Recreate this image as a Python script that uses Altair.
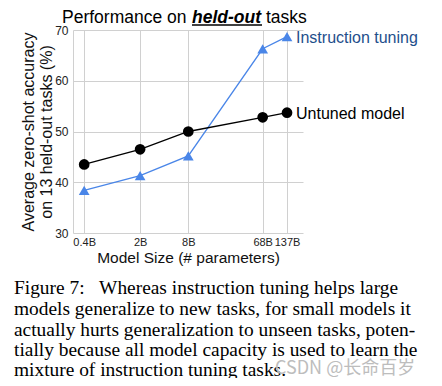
import altair as alt
import pandas as pd

sizes = [0.4, 2, 8, 68, 137]
size_labels = ["0.4B", "2B", "8B", "68B", "137B"]
untuned = [43.5, 46.5, 50.0, 52.8, 53.7]
instruction = [38.4, 41.3, 45.2, 66.3, 68.7]
series_names = ["Instruction tuning", "Untuned model"]
caption_lines = [
    "Figure 7:\u00a0\u00a0\u00a0Whereas instruction tuning helps large",
    "models generalize to new tasks, for small models it",
    "actually hurts generalization to unseen tasks, poten-",
    "tially because all model capacity is used to learn the",
    "mixture of instruction tuning tasks.",
]

BLUE = "#4a86e8"
W, H = 230, 203

xscale = alt.Scale(type="log", domain=[0.29, 217], nice=False)
yscale = alt.Scale(domain=[30, 70], nice=False)

df = pd.DataFrame({
    "size": sizes * 2,
    "label": size_labels * 2,
    "acc": instruction + untuned,
    "series": [series_names[0]] * 5 + [series_names[1]] * 5,
})

label_expr = "{" + ",".join(f"'{s}':'{l}'" for s, l in zip(sizes, size_labels)) + "}[datum.value]"

xaxis = alt.Axis(values=sizes, labelExpr=label_expr, title="Model Size (# parameters)",
                 titleFontSize=15.5, titleFontWeight="normal", titleFont="Liberation Sans",
                 titleColor="#111", titlePadding=3, labelFontSize=11, labelFont="Liberation Sans",
                 labelColor="#222", grid=True, gridColor="#d0d0d0", domain=False, ticks=False,
                 labelPadding=3, labelOverlap=False, labelFlush=False)
yaxis = alt.Axis(values=[30, 40, 50, 60, 70], title=["Average zero-shot accuracy", "on 13 held-out tasks (%)"],
                 titleFontSize=16, titleFontWeight="normal", titleFont="Liberation Sans",
                 titleColor="#111", titlePadding=0, labelFontSize=12, labelFont="Liberation Sans",
                 labelColor="#222", grid=True, gridColor="#d0d0d0", domain=True, domainColor="#d0d0d0",
                 ticks=False, labelPadding=5, titleLineHeight=18, labelOverlap=False)

color = alt.Color("series:N", scale=alt.Scale(domain=series_names, range=[BLUE, "black"]), legend=None)

base = alt.Chart(df).encode(
    x=alt.X("size:Q", scale=xscale, axis=xaxis),
    y=alt.Y("acc:Q", scale=yscale, axis=yaxis),
    color=color,
)

lines = base.mark_line(strokeWidth=1.3)
tri = base.transform_filter(alt.datum.series == series_names[0]).mark_point(
    shape="triangle-up", filled=True, size=115, opacity=1)
circ = base.transform_filter(alt.datum.series == series_names[1]).mark_point(
    shape="circle", filled=True, size=115, opacity=1)

# end labels
end_df = pd.DataFrame({"size": [sizes[-1], sizes[-1]], "acc": [instruction[-1], untuned[-1]],
                       "series": series_names, "tcolor": ["#1f4f8c", "#000000"]})
end_labels = alt.Chart(end_df).mark_text(align="left", baseline="middle", dx=9, dy=1.5, fontSize=16,
                                          font="Liberation Sans").encode(
    x=alt.X("size:Q", scale=xscale), y=alt.Y("acc:Q", scale=yscale),
    text="series:N", color=alt.Color("tcolor:N", scale=None))

# title pieces
title_df = pd.DataFrame({"t": ["Performance on", "held-out", "tasks"], "px": [-11, 119, 193],
                         "w": ["normal", "bold", "normal"]})
title_normal = alt.Chart(title_df[title_df.w == "normal"]).mark_text(
    align="left", baseline="alphabetic", fontSize=17.5, font="Liberation Sans", color="black").encode(
    x=alt.X("px:Q", scale=None), y=alt.value(-7.5), text="t:N")
title_bold = alt.Chart(title_df[title_df.w == "bold"]).mark_text(
    align="left", baseline="alphabetic", fontSize=17.5, font="Liberation Sans", color="black",
    fontWeight="bold", fontStyle="italic").encode(
    x=alt.X("px:Q", scale=None), y=alt.value(-7.5), text="t:N")
underline = alt.Chart(pd.DataFrame({"a": [119], "b": [189]})).mark_rule(color="black", strokeWidth=1.5).encode(
    x=alt.X("a:Q", scale=None), x2="b:Q", y=alt.value(-5))

# caption
cap_df = pd.DataFrame({"line": caption_lines, "py": [257.5, 278.5, 299.5, 320, 340]})
caption = alt.Chart(cap_df).mark_text(align="left", baseline="middle", fontSize=19.4,
                                      font="Liberation Serif", color="black").encode(
    x=alt.value(-59), y=alt.Y("py:Q", scale=None), text="line:N")

watermark = alt.Chart(pd.DataFrame({"t": ["CSDN @长命百岁"]})).mark_text(
    align="left", baseline="middle", fontSize=18, font="Noto Sans CJK SC", color="#bdbdbd").encode(
    x=alt.value(202), y=alt.value(339), text="t:N")

chart = alt.layer(lines, tri, circ, end_labels, title_normal, title_bold, underline, caption, watermark).resolve_scale(
    color="independent").properties(
    width=W, height=H,
    autosize=alt.AutoSizeParams(type="none"),
    padding={"left": 65, "top": 22, "right": 131, "bottom": 145},
).configure_view(stroke=None)

chart.save("out.html", embed_options={"renderer": "svg", "actions": False})
